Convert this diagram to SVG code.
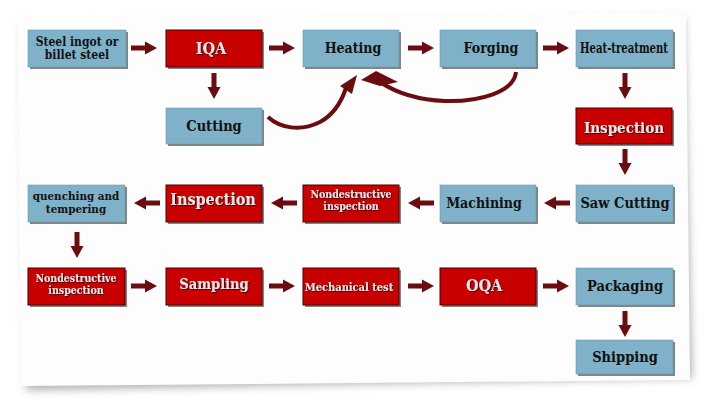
<svg xmlns="http://www.w3.org/2000/svg" width="704" height="400" viewBox="0 0 704 400">
<defs>
<style>
.b{fill:#7fb1c8;stroke:#6a9ab2;stroke-width:0.6}
.r{fill:#c80000;stroke:#4a0000;stroke-width:1}
.sh{fill:#5a5a5a;opacity:0.75}
.tb{font-family:"DejaVu Serif Condensed","DejaVu Serif","Liberation Serif",serif;font-stretch:condensed;font-weight:bold;fill:#111;text-anchor:middle}
.tr{font-family:"DejaVu Serif Condensed","DejaVu Serif","Liberation Serif",serif;font-stretch:condensed;font-weight:bold;fill:#e4e8ea;text-anchor:middle}
.a{fill:#6b0d10}
.c{fill:none;stroke:#6b0d10;stroke-width:4;stroke-linecap:butt}
</style>
<filter id="blur" x="-10%" y="-10%" width="120%" height="120%"><feGaussianBlur stdDeviation="4"/></filter>
<filter id="ts" x="-10%" y="-20%" width="120%" height="140%"><feDropShadow dx="1" dy="1" stdDeviation="0.3" flood-color="#3a0000" flood-opacity="0.9"/></filter>
<g id="ah"><polygon points="0,-2.5 14,-2.5 14,-6.5 26,0 14,6.5 14,2.5 0,2.5"/></g>
</defs>
<rect width="704" height="400" fill="#ffffff"/>
<g id="paper">
<polygon points="22,26 684,18 692,378 26,390" fill="#9a9a9a" filter="url(#blur)" opacity="0.8"/>
<polygon points="18,16 686,12 690,380 20,386" fill="#fdfdfd"/>
</g>
<g id="connectors">
<use href="#ah" class="a" x="131" y="48"/>
<use href="#ah" class="a" x="269" y="48"/>
<use href="#ah" class="a" x="408" y="48"/>
<use href="#ah" class="a" x="543" y="48"/>
<use href="#ah" class="a" transform="translate(214,73) rotate(90)"/>
<use href="#ah" class="a" transform="translate(625,73) rotate(90)"/>
<use href="#ah" class="a" transform="translate(625,149) rotate(90)"/>
<use href="#ah" class="a" transform="translate(570,203) rotate(180)"/>
<use href="#ah" class="a" transform="translate(434,203) rotate(180)"/>
<use href="#ah" class="a" transform="translate(297,203) rotate(180)"/>
<use href="#ah" class="a" transform="translate(160,203) rotate(180)"/>
<use href="#ah" class="a" transform="translate(77,232) rotate(90)"/>
<use href="#ah" class="a" x="131" y="286"/>
<use href="#ah" class="a" x="269" y="286"/>
<use href="#ah" class="a" x="408" y="286"/>
<use href="#ah" class="a" x="543" y="286"/>
<use href="#ah" class="a" transform="translate(625,311) rotate(90)"/>
<path class="c" d="M268,117 C280,128 300,132 320,122 C335,114 342,100 346,88"/>
<polygon class="a" points="357,75 352,94 340,86"/>
<path class="c" d="M516,72 C514,92 480,102 445,101 C420,100 398,94 380,82"/>
<polygon class="a" points="361,80 376,71 398,82 380,86"/>
</g>
<g id="n1"><rect class="sh" x="30" y="32" width="98" height="37"/><rect class="b" x="28" y="30" width="98" height="37"/><text class="tb" font-size="12" x="77" y="46">Steel ingot or</text><text class="tb" font-size="12" x="77" y="59">billet steel</text></g>
<g id="n2"><rect class="sh" x="168" y="32" width="96" height="37"/><rect class="r" x="166" y="30" width="96" height="37"/><text class="tr" font-size="16" x="211" y="54" filter="url(#ts)">IQA</text></g>
<g id="n3"><rect class="sh" x="305" y="32" width="96" height="37"/><rect class="b" x="303" y="30" width="96" height="37"/><text class="tb" font-size="14" x="353" y="53">Heating</text></g>
<g id="n4"><rect class="sh" x="442" y="32" width="96" height="37"/><rect class="b" x="440" y="30" width="96" height="37"/><text class="tb" font-size="14" x="491" y="53">Forging</text></g>
<g id="n5"><rect class="sh" x="578" y="32" width="97" height="37"/><rect class="b" x="576" y="30" width="97" height="37"/><text class="tb" font-size="14" x="624" y="53" textLength="88" lengthAdjust="spacingAndGlyphs">Heat-treatment</text></g>
<g id="n6"><rect class="sh" x="168" y="110" width="96" height="36"/><rect class="b" x="166" y="108" width="96" height="36"/><text class="tb" font-size="14.5" x="214" y="131">Cutting</text></g>
<g id="n7"><rect class="sh" x="578" y="110" width="96" height="36"/><rect class="r" x="576" y="108" width="96" height="36"/><text class="tr" font-size="15" x="624" y="133" filter="url(#ts)">Inspection</text></g>
<g id="n8"><rect class="sh" x="30" y="187" width="97" height="37"/><rect class="b" x="28" y="185" width="97" height="37"/><text class="tb" font-size="11.5" x="76" y="200">quenching and</text><text class="tb" font-size="11.5" x="76" y="213">tempering</text></g>
<g id="n9"><rect class="sh" x="168" y="187" width="96" height="37"/><rect class="r" x="166" y="185" width="96" height="37"/><text class="tr" font-size="16" x="213" y="205" filter="url(#ts)">Inspection</text></g>
<g id="n10"><rect class="sh" x="305" y="187" width="96" height="37"/><rect class="r" x="303" y="185" width="96" height="37"/><text class="tr" font-size="10.5" x="351" y="198" filter="url(#ts)">Nondestructive</text><text class="tr" font-size="10.5" x="351" y="210" filter="url(#ts)">inspection</text></g>
<g id="n11"><rect class="sh" x="442" y="187" width="96" height="37"/><rect class="b" x="440" y="185" width="96" height="37"/><text class="tb" font-size="14" x="484" y="208">Machining</text></g>
<g id="n12"><rect class="sh" x="578" y="187" width="97" height="37"/><rect class="b" x="576" y="185" width="97" height="37"/><text class="tb" font-size="14.5" x="625" y="208">Saw Cutting</text></g>
<g id="n13"><rect class="sh" x="30" y="270" width="97" height="37"/><rect class="r" x="28" y="268" width="97" height="37"/><text class="tr" font-size="10.5" x="76" y="282" filter="url(#ts)">Nondestructive</text><text class="tr" font-size="10.5" x="76" y="294" filter="url(#ts)">inspection</text></g>
<g id="n14"><rect class="sh" x="168" y="270" width="96" height="37"/><rect class="r" x="166" y="268" width="96" height="37"/><text class="tr" font-size="14.5" x="214" y="289" filter="url(#ts)">Sampling</text></g>
<g id="n15"><rect class="sh" x="305" y="270" width="96" height="37"/><rect class="r" x="303" y="268" width="96" height="37"/><text class="tr" font-size="11" x="349" y="291" filter="url(#ts)">Mechanical test</text></g>
<g id="n16"><rect class="sh" x="442" y="270" width="96" height="37"/><rect class="r" x="440" y="268" width="96" height="37"/><text class="tr" font-size="16" x="484" y="291" filter="url(#ts)">OQA</text></g>
<g id="n17"><rect class="sh" x="578" y="270" width="97" height="37"/><rect class="b" x="576" y="268" width="97" height="37"/><text class="tb" font-size="14.5" x="625" y="291">Packaging</text></g>
<g id="n18"><rect class="sh" x="578" y="342" width="97" height="34"/><rect class="b" x="576" y="340" width="97" height="34"/><text class="tb" font-size="14.5" x="625" y="362">Shipping</text></g>
</svg>
